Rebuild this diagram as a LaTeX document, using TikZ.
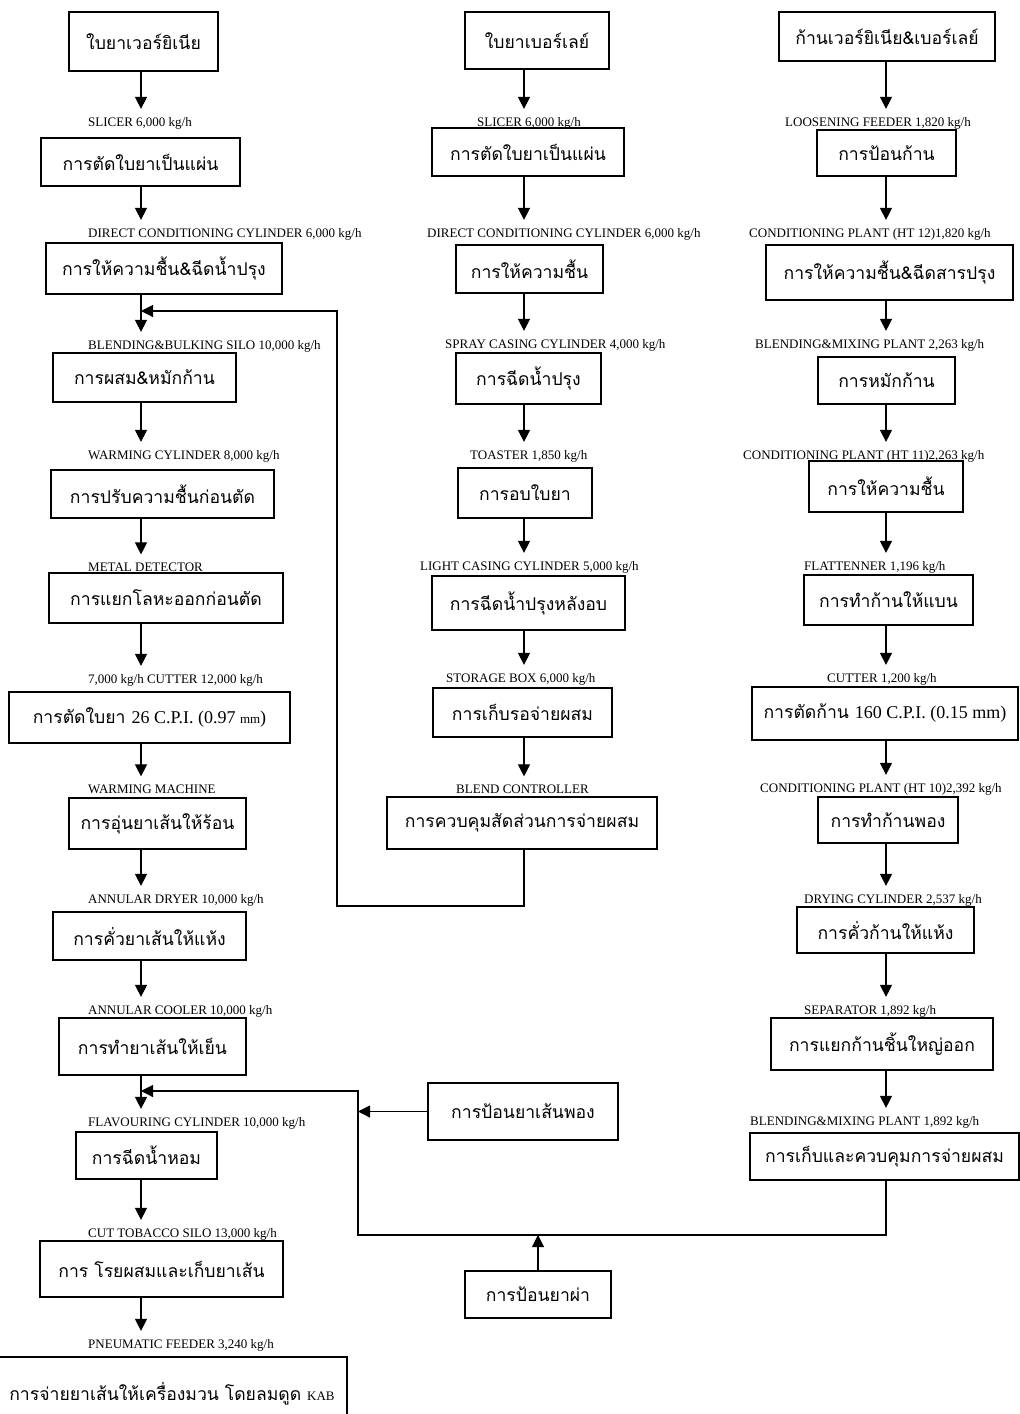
\documentclass[tikz,border=0pt]{standalone}
\usepackage{fontspec}
\setmainfont{Liberation Serif}
\newfontfamily\thaifont[Script=Thai]{Loma}
\usetikzlibrary{arrows.meta}
\tikzset{
  proc box/.style={draw=black, line width=1.1pt, inner sep=0pt,
    font=\thaifont\fontsize{17.6}{20}\selectfont},
  machine label/.style={anchor=west, inner sep=0pt,
    font=\fontsize{13}{15}\selectfont},
  flow/.style={draw=black, line width=1.1pt,
    -{Triangle[length=12pt, width=12pt]}},
  step arrow/.style={flow, shorten >=8pt},
}
\newcommand{\procbox}[6]{%
  \node[proc box, minimum width={#4-(#2)}, minimum height={#5-(#3)}]
    (#1) at ({(#2+#4)/2},{(#3+#5)/2}) {#6};}
\newcommand{\latin}[2][18]{{\rmfamily\fontsize{#1}{20}\selectfont #2}}

\begin{document}
\begin{tikzpicture}[x=1pt, y=-1pt]
  \useasboundingbox[fill=white] (0,0) rectangle (1020,1414);
  \coordinate (colA) at (141,0);
  \coordinate (colB) at (524,0);
  \coordinate (colC) at (886,0);
  \coordinate (loopA) at (337,906);
  \coordinate (loopB) at (358,1235);
  \coordinate (trunkA) at (141,311);
  \coordinate (trunkB) at (141,1091);

  % virginia leaf line
  \procbox{vir1}{69}{12}{218}{71}{ใบยาเวอร์ยิเนีย}
  \node[machine label] (virm2) at (88,123) {SLICER 6,000 kg/h};
  \procbox{vir2}{41}{138}{240}{186}{การตัดใบยาเป็นแผ่น}
  \node[machine label] (virm3) at (88,234) {DIRECT CONDITIONING CYLINDER 6,000 kg/h};
  \procbox{vir3}{46}{243}{282}{294}{การให้ความชื้น\&ฉีดน้ำปรุง}
  \node[machine label] (virm4) at (88,346) {BLENDING\&BULKING SILO 10,000 kg/h};
  \procbox{vir4}{53}{353}{236}{402}{การผสม\&หมักก้าน}
  \node[machine label] (virm5) at (88,456) {WARMING CYLINDER 8,000 kg/h};
  \procbox{vir5}{51}{470}{274}{518}{การปรับความชื้นก่อนตัด}
  \node[machine label] (virm6) at (88,567) {METAL DETECTOR};
  \procbox{vir6}{49}{573}{283}{623}{การแยกโลหะออกก่อนตัด}
  \node[machine label] (virm7) at (88,680) {7,000 kg/h CUTTER 12,000 kg/h};
  \procbox{vir7}{9}{692}{290}{743}{การตัดใบยา \latin{26 C.P.I. (0.97 \latin[13]{mm})}}
  \node[machine label] (virm8) at (88,789) {WARMING MACHINE};
  \procbox{vir8}{69}{798}{246}{849}{การอุ่นยาเส้นให้ร้อน}
  \node[machine label] (virm9) at (88,900) {ANNULAR DRYER 10,000 kg/h};
  \procbox{vir9}{53}{912}{246}{960}{การคั่วยาเส้นให้แห้ง}
  \node[machine label] (virm10) at (88,1011) {ANNULAR COOLER 10,000 kg/h};
  \procbox{vir10}{59}{1018}{246}{1075}{การทำยาเส้นให้เย็น}
  \node[machine label] (virm11) at (88,1123) {FLAVOURING CYLINDER 10,000 kg/h};
  \procbox{vir11}{76}{1132}{217}{1179}{การฉีดน้ำหอม}
  \node[machine label] (virm12) at (88,1234) {CUT TOBACCO SILO 13,000 kg/h};
  \procbox{vir12}{40}{1241}{283}{1297}{การ โรยผสมและเก็บยาเส้น}
  \node[machine label] (virm13) at (88,1345) {PNEUMATIC FEEDER 3,240 kg/h};
  \procbox{vir13}{-3}{1357}{347}{1430}{การจ่ายยาเส้นให้เครื่องมวน โดยลมดูด \latin[13]{KAB}}

  % burley leaf line
  \procbox{bur1}{465}{12}{609}{69}{ใบยาเบอร์เลย์}
  \node[machine label] (burm2) at (477,123) {SLICER 6,000 kg/h};
  \procbox{bur2}{432}{128}{624}{176}{การตัดใบยาเป็นแผ่น}
  \node[machine label] (burm3) at (427,234) {DIRECT CONDITIONING CYLINDER 6,000 kg/h};
  \procbox{bur3}{456}{245}{603}{293}{การให้ความชื้น}
  \node[machine label] (burm4) at (445,345) {SPRAY CASING CYLINDER 4,000 kg/h};
  \procbox{bur4}{456}{353}{601}{404}{การฉีดน้ำปรุง}
  \node[machine label] (burm5) at (470,456) {TOASTER 1,850 kg/h};
  \procbox{bur5}{458}{468}{592}{518}{การอบใบยา}
  \node[machine label] (burm6) at (420,567) {LIGHT CASING CYLINDER 5,000 kg/h};
  \procbox{bur6}{432}{576}{625}{630}{การฉีดน้ำปรุงหลังอบ}
  \node[machine label] (burm7) at (446,679) {STORAGE BOX 6,000 kg/h};
  \procbox{bur7}{433}{688}{612}{737}{การเก็บรอจ่ายผสม}
  \node[machine label] (burm8) at (456,789) {BLEND CONTROLLER};
  \procbox{bur8}{387}{797}{657}{849}{การควบคุมสัดส่วนการจ่ายผสม}

  % stem line
  \procbox{stm1}{779}{12}{995}{61}{ก้านเวอร์ยิเนีย\&เบอร์เลย์}
  \node[machine label] (stmm2) at (785,123) {LOOSENING FEEDER 1,820 kg/h};
  \procbox{stm2}{817}{130}{956}{176}{การป้อนก้าน}
  \node[machine label] (stmm3) at (749,234) {CONDITIONING PLANT (HT 12)1,820 kg/h};
  \procbox{stm3}{766}{245}{1013}{300}{การให้ความชื้น\&ฉีดสารปรุง}
  \node[machine label] (stmm4) at (755,345) {BLENDING\&MIXING PLANT 2,263 kg/h};
  \procbox{stm4}{818}{357}{955}{404}{การหมักก้าน}
  \node[machine label] (stmm5) at (743,456) {CONDITIONING PLANT (HT 11)2,263 kg/h};
  \procbox{stm5}{809}{461}{963}{512}{การให้ความชื้น}
  \node[machine label] (stmm6) at (804,567) {FLATTENNER 1,196 kg/h};
  \procbox{stm6}{804}{575}{973}{625}{การทำก้านให้แบน}
  \node[machine label] (stmm7) at (827,679) {CUTTER 1,200 kg/h};
  \procbox{stm7}{752}{687}{1018}{740}{การตัดก้าน \latin{160 C.P.I. (0.15 mm)}}
  \node[machine label] (stmm8) at (760,789) {CONDITIONING PLANT (HT 10)2,392 kg/h};
  \procbox{stm8}{818}{797}{958}{843}{การทำก้านพอง}
  \node[machine label] (stmm9) at (804,900) {DRYING CYLINDER 2,537 kg/h};
  \procbox{stm9}{797}{907}{974}{953}{การคั่วก้านให้แห้ง}
  \node[machine label] (stmm10) at (804,1011) {SEPARATOR 1,892 kg/h};
  \procbox{stm10}{771}{1018}{993}{1070}{การแยกก้านชิ้นใหญ่ออก}
  \node[machine label] (stmm11) at (750,1122) {BLENDING\&MIXING PLANT 1,892 kg/h};
  \procbox{stm11}{750}{1133}{1019}{1180}{การเก็บและควบคุมการจ่ายผสม}

  % extra feeds
  \procbox{puffed}{428}{1083}{618}{1140}{การป้อนยาเส้นพอง}
  \procbox{split}{465}{1271}{611}{1318}{การป้อนยาผ่า}

  \draw[step arrow] (vir1.south -| colA) -- (virm2.north -| colA);
  \draw[step arrow] (vir2.south -| colA) -- (virm3.north -| colA);
  \draw[step arrow] (vir3.south -| colA) -- (virm4.north -| colA);
  \draw[step arrow] (vir4.south -| colA) -- (virm5.north -| colA);
  \draw[step arrow] (vir5.south -| colA) -- (virm6.north -| colA);
  \draw[step arrow] (vir6.south -| colA) -- (virm7.north -| colA);
  \draw[step arrow] (vir7.south -| colA) -- (virm8.north -| colA);
  \draw[step arrow] (vir8.south -| colA) -- (virm9.north -| colA);
  \draw[step arrow] (vir9.south -| colA) -- (virm10.north -| colA);
  \draw[step arrow] (vir10.south -| colA) -- (virm11.north -| colA);
  \draw[step arrow] (vir11.south -| colA) -- (virm12.north -| colA);
  \draw[step arrow] (vir12.south -| colA) -- (virm13.north -| colA);

  \draw[step arrow] (bur1.south -| colB) -- (burm2.north -| colB);
  \draw[step arrow] (bur2.south -| colB) -- (burm3.north -| colB);
  \draw[step arrow] (bur3.south -| colB) -- (burm4.north -| colB);
  \draw[step arrow] (bur4.south -| colB) -- (burm5.north -| colB);
  \draw[step arrow] (bur5.south -| colB) -- (burm6.north -| colB);
  \draw[step arrow] (bur6.south -| colB) -- (burm7.north -| colB);
  \draw[step arrow] (bur7.south -| colB) -- (burm8.north -| colB);

  \draw[step arrow] (stm1.south -| colC) -- (stmm2.north -| colC);
  \draw[step arrow] (stm2.south -| colC) -- (stmm3.north -| colC);
  \draw[step arrow] (stm3.south -| colC) -- (stmm4.north -| colC);
  \draw[step arrow] (stm4.south -| colC) -- (stmm5.north -| colC);
  \draw[step arrow] (stm5.south -| colC) -- (stmm6.north -| colC);
  \draw[step arrow] (stm6.south -| colC) -- (stmm7.north -| colC);
  \draw[step arrow] (stm7.south -| colC) -- (stmm8.north -| colC);
  \draw[step arrow] (stm8.south -| colC) -- (stmm9.north -| colC);
  \draw[step arrow] (stm9.south -| colC) -- (stmm10.north -| colC);
  \draw[step arrow] (stm10.south -| colC) -- (stmm11.north -| colC);

  \draw[flow] (bur8.south -| colB) |- (loopA) |- (trunkA);
  \draw[flow] (stm11.south -| colC) |- (loopB) |- (trunkB);
  \draw[flow] (puffed.west) -- (puffed.west -| loopB);
  \draw[flow] (split.north) -- (split.north |- loopB);
\end{tikzpicture}
\end{document}
